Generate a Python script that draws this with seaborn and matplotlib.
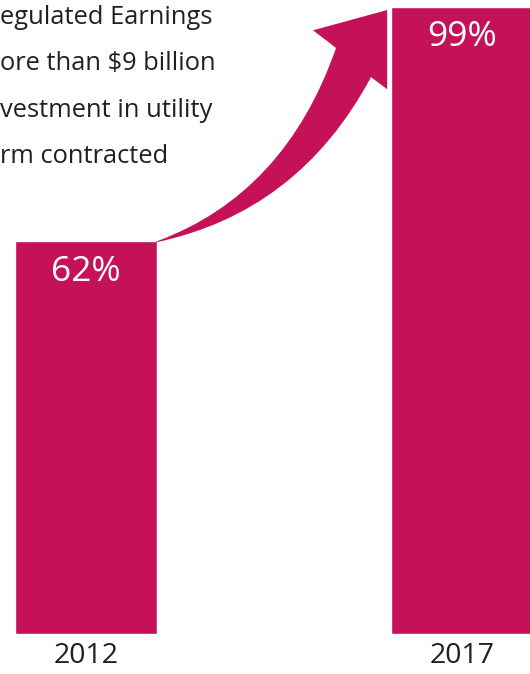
import matplotlib
matplotlib.use("Agg")
import matplotlib.pyplot as plt
from matplotlib.path import Path
from matplotlib.patches import PathPatch
import seaborn as sns
import pandas as pd

# ---- data ----
years = ["2012", "2017"]
shares = [62, 99]
share_labels = ["62%", "99%"]
note_lines = ["egulated Earnings", "ore than $9 billion", "vestment in utility", "rm contracted"]

BAR = "#C41158"
INK = "#231F20"

sns.set_theme(style="white")
plt.rcParams["font.family"] = ["Open Sans", "DejaVu Sans"]

W, H = 530, 674
fig = plt.figure(figsize=(W / 100, H / 100), dpi=100)
ax = fig.add_axes([0, 40 / H, 1, 634 / H])

df = pd.DataFrame({"year": years, "share": shares})
sns.barplot(data=df, x="year", y="share", color=BAR, saturation=1,
            width=0.378, ax=ax, zorder=2)

ax.set_xlim(-86 / 376, (530 - 86) / 376)
ax.set_ylim(0, 634 / 6.335)
ax.set_xlabel("")
ax.set_ylabel("")
ax.set_yticks([])
for s in ax.spines.values():
    s.set_visible(False)
ax.tick_params(axis="x", length=0, pad=6, labelsize=20.5, labelcolor=INK)

# value labels inside bars
for i, (v, lab) in enumerate(zip(shares, share_labels)):
    ax.annotate(lab, xy=(i, v), xytext=(0, -28.5), textcoords="offset points",
                ha="center", va="baseline", color="white", fontsize=25.5)

# curved arrow from bar 1 top-right corner toward bar 2
w2 = 0.378 / 2
tx, ty = 0 + w2, shares[0]
verts = [
    (tx, ty),
    (0.53, 69.5), (0.665, 92.5),     # upper edge (quadratic)
    (0.604, 95.3),                   # left wing
    (0.801, 98.5),                   # tip
    (0.801, 86.0),                   # right wing
    (0.758, 87.9),                   # right notch
    (0.565, 66.5), (tx - 0.005, ty - 0.2),  # lower edge (quadratic)
    (tx, ty),
]
codes = [Path.MOVETO, Path.CURVE3, Path.CURVE3, Path.LINETO, Path.LINETO,
         Path.LINETO, Path.LINETO, Path.CURVE3, Path.CURVE3, Path.CLOSEPOLY]
ax.add_patch(PathPatch(Path(verts, codes), facecolor=BAR, edgecolor="none",
                       zorder=3, clip_on=False))

# clipped note text at top-left
baselines = [24, 70, 117, 163]
for line, b in zip(note_lines, baselines):
    fig.text(0.0, 1 - b / H, line, ha="left", va="baseline",
             fontsize=18.4, color=INK)

fig.savefig("out.png", dpi=100)
